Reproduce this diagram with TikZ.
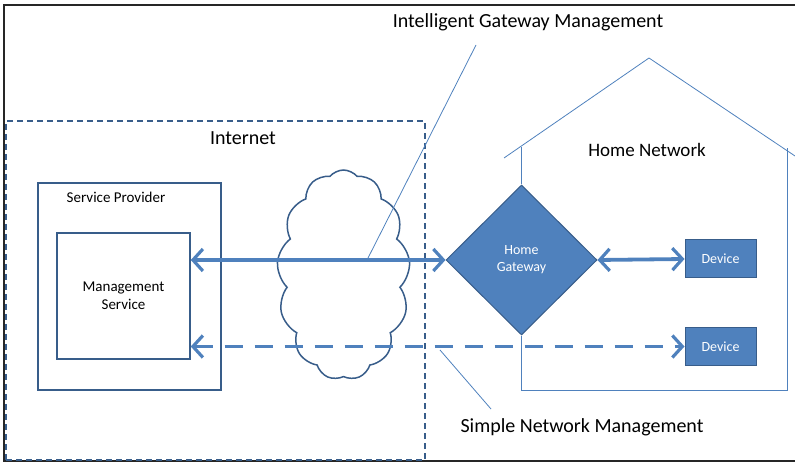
\documentclass[tikz,border=0pt]{standalone}
\usepackage{fontspec}
\setmainfont{Carlito}
\usetikzlibrary{shapes.geometric,shapes.symbols,arrows.meta}
\definecolor{azzurro}{HTML}{4F81BD}
\definecolor{bordo}{HTML}{385D8A}
\tikzset{
	barb/.style={line width=3.8pt, azzurro, {Straight Barb[length=10pt,width=22pt,line width=3.2pt]}-{Straight Barb[length=10pt,width=22pt,line width=3.2pt]}},
	scatola/.style={draw=bordo, line width=1.5pt},
	device/.style={draw=bordo, line width=1pt, fill=azzurro, text=white, minimum width=71pt, minimum height=38pt, font=\fontsize{14}{16}\selectfont},
	richiamo/.style={azzurro, line width=0.8pt},
	titolo/.style={font=\fontsize{20}{22}\selectfont}
}
\begin{document}
\begin{tikzpicture}[x=1pt,y=-1pt]
	\useasboundingbox (0,0) rectangle (795,462);
	% cornice esterna
	\draw [line width=2pt, black!85] (795,5) -- (4,5) -- (4,461) -- (795,461);
	% Internet
	\node [draw=bordo, dashed, dash pattern=on 6pt off 4pt, line width=1.5pt, minimum width=419pt, minimum height=339pt] (internet) at (215.5,290.5) {};
	\node [titolo] (lblinternet) at (243,138) {Internet};
	\node [scatola, minimum width=183pt, minimum height=207pt] (sp) at (129.5,286.5) {};
	\node [font=\fontsize{15}{17}\selectfont] (lblsp) at (116,197) {Service Provider};
	\node [scatola, minimum width=133pt, minimum height=126pt, align=center, font=\fontsize{15}{18}\selectfont] (ms) at (123.5,296) {Management\\Service};
	\node [cloud, draw=bordo, line width=1.5pt, cloud puffs=13, cloud puff arc=100, aspect=0.62, inner sep=0pt, minimum width=133pt, minimum height=210pt] (nuvola) at (343.5,275) {};
	% casa
	\node [diamond, draw=bordo, line width=1pt, fill=azzurro, text=white, aspect=1, minimum width=151pt, minimum height=150pt, inner sep=0pt, align=center, font=\fontsize{14}{17}\selectfont] (gw) at (521.5,260) {Home\\Gateway};
	\draw [richiamo] (504,158) -- (649,58) -- (795,156);
	\draw [richiamo] (gw.north) -- (521.5,147);
	\draw [richiamo] (gw.south) -- (521.5,390) -- (787,390) -- (787,148);
	\node [font=\fontsize{19}{21}\selectfont] (lblhome) at (647,150) {Home Network};
	\node [device] (dev1) at (720.5,259) {Device};
	\node [device] (dev2) at (720.5,346.5) {Device};
	% frecce
	\draw [barb] (ms.east |- gw.west) -- (gw.west);
	\draw [barb] (gw.east) -- (dev1.west);
	\draw [barb, dash pattern=on 18pt off 12pt] (ms.east |- dev2.west) -- (dev2.west);
	% richiami
	\coordinate (piede1) at (367,260);
	\coordinate (piede2) at (440,350);
	\node [titolo] (igm) at (528,22) {Intelligent Gateway Management};
	\node [titolo] (snm) at (582,427) {Simple Network Management};
	\draw [richiamo] (piede1) -- (476,45);
	\draw [richiamo] (piede2) -- (491,409);
\end{tikzpicture}
\end{document}
